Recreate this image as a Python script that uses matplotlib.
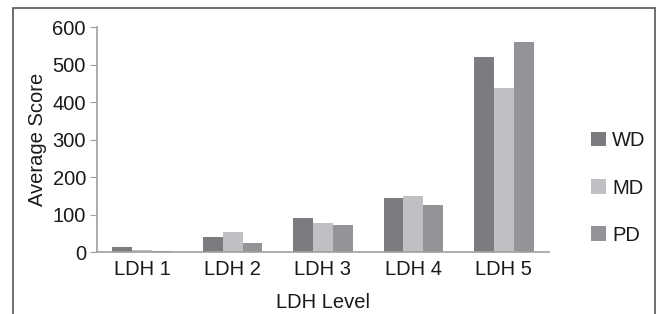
import matplotlib
matplotlib.use("Agg")
import matplotlib.pyplot as plt
import numpy as np
from matplotlib.patches import Rectangle

categories = ["LDH 1", "LDH 2", "LDH 3", "LDH 4", "LDH 5"]
series_names = ["WD", "MD", "PD"]
wd = [13, 40, 91, 144, 520]
md = [5, 53, 77, 149, 437]
pd_ = [2, 24, 72, 125, 560]
yticks = [0, 100, 200, 300, 400, 500, 600]

colors = ["#7b7c80", "#bfc0c4", "#939498"]
plt.rcParams['font.family'] = ['Liberation Sans', 'DejaVu Sans']
FS = 14.5

fig = plt.figure(figsize=(6.61, 3.14), dpi=100)
ax = fig.add_axes([97/661, 1-252/314, (549-97)/661, (252-27)/314])

x = np.arange(len(categories))
w = 0.22
for i, (vals, name) in enumerate(zip([wd, md, pd_], series_names)):
    ax.bar(x + (i-1)*w, vals, width=w, color=colors[i], label=name, edgecolor='none')

ax.set_xlim(-0.5, len(categories)-0.5)
ax.set_ylim(0, 600)
ax.set_yticks(yticks)
ax.set_xticks(x)
ax.set_xticklabels(categories)
for s in ['top', 'right']:
    ax.spines[s].set_visible(False)
for s in ['left', 'bottom']:
    ax.spines[s].set_color('#a0a0a0')
    ax.spines[s].set_linewidth(1.2)
ax.tick_params(axis='y', length=5, color='#a0a0a0', labelsize=FS, pad=3, labelcolor='#1a1a1a')
ax.tick_params(axis='x', length=0, labelsize=FS, pad=6, labelcolor='#1a1a1a')
ax.set_xlabel("LDH Level", fontsize=FS, labelpad=10, color='#1a1a1a')
ax.set_ylabel("Average Score", fontsize=FS, labelpad=4, color='#1a1a1a')

leg = fig.legend(loc='center left', bbox_to_anchor=(591/661, 1-188/314), frameon=False,
                 fontsize=FS, handlelength=0.75, handleheight=0.72, handletextpad=0.3,
                 labelspacing=1.4, borderaxespad=0, borderpad=0)
for t in leg.get_texts():
    t.set_color('#1a1a1a')

fig.add_artist(Rectangle((13/661, -0.1), (655-13)/661, 1.1 - 8/314,
                         transform=fig.transFigure, fill=False,
                         edgecolor='#555555', linewidth=1.2))

fig.savefig("out.png", dpi=100)
